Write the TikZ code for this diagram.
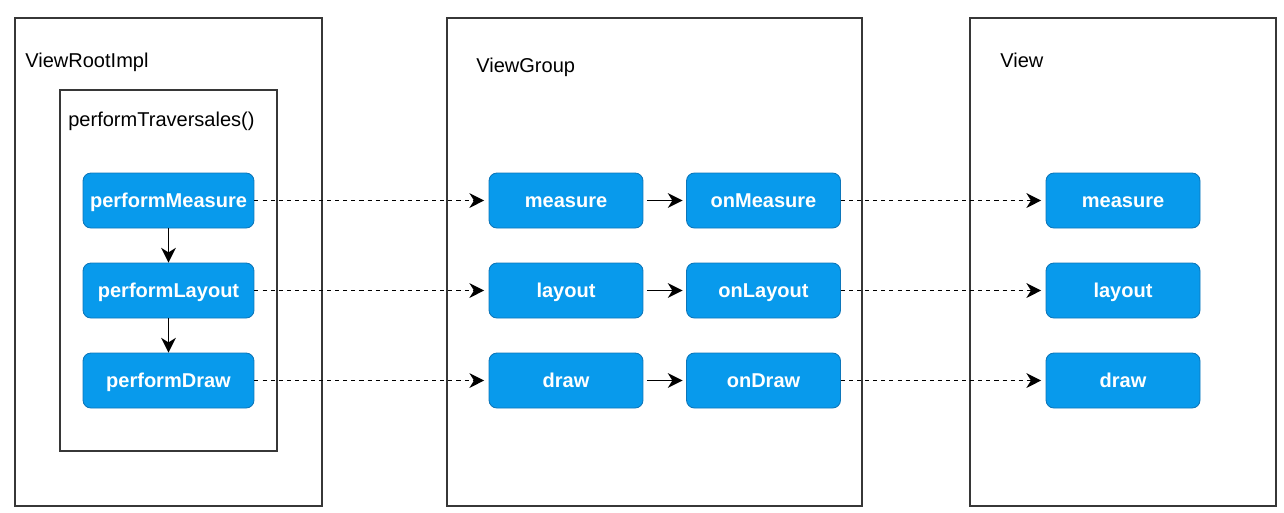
\documentclass[tikz,border=0pt]{standalone}
\usepackage{fontspec}
\setmainfont{Liberation Sans}
\usepackage{xcolor}
\usepackage{pgf,tikz}
\usetikzlibrary{shapes}
\usetikzlibrary{arrows.meta}
\tikzset{
  font={\fontsize{11.4pt}{13}\selectfont}}
\definecolor{callblue}{RGB}{8,154,236}
\definecolor{callline}{RGB}{12,118,186}
\definecolor{frameline}{RGB}{55,55,55}

\begin{document}
\begin{tikzpicture}[x = 0.02cm, y = -0.02cm]

    \tikzset{edge/.style = {->, > = {Stealth[length = 8.4pt, width = 8.4pt, inset = 2.6pt]}, line width = 0.95pt},
             call/.style = {edge, dash pattern = on 2.3pt off 2.3pt, shorten > = 2.5pt},
             frame/.style = {draw = frameline, line width = 0.9pt, rectangle, inner sep = 0pt},
             title/.style = {anchor = base west, inner sep = 0pt},
             method/.style = {rounded corners = 4.5pt, draw = callline, fill = callblue, line width = 0.5pt,
                              text = white, font = {\fontsize{11.4pt}{13}\selectfont\bfseries},
                              text height = 1.75ex, text depth = 0.15ex,
                              minimum height = 1.1cm, minimum width = 3.08cm}}

    \useasboundingbox (0,0) rectangle (1284,512);

    % frames
    \node[frame, minimum width = 6.14cm, minimum height = 9.76cm] (root) at (168.5,262) {};
    \node[frame, minimum width = 4.34cm, minimum height = 7.22cm] (trav) at (168.5,270.5) {};
    \node[frame, minimum width = 8.30cm, minimum height = 9.76cm] (group) at (654.5,262) {};
    \node[frame, minimum width = 6.12cm, minimum height = 9.76cm] (view) at (1123,262) {};

    \node[title] (rootname) at (25,67) {ViewRootImpl};
    \node[title] (travname) at (68,126) {performTraversales()};
    \node[title] (groupname) at (476,72) {ViewGroup};
    \node[title] (viewname) at (1000,67) {View};

    % vertices
    \node[method, minimum width = 3.42cm] (pm) at (168.5,200.5) {performMeasure};
    \node[method, minimum width = 3.42cm] (pl) at (168.5,290.5) {performLayout};
    \node[method, minimum width = 3.42cm] (pd) at (168.5,380.5) {performDraw};

    \node[method] (gm) at (566,200.5) {measure};
    \node[method] (gl) at (566,290.5) {layout};
    \node[method] (gd) at (566,380.5) {draw};

    \node[method] (gom) at (763.5,200.5) {onMeasure};
    \node[method] (gol) at (763.5,290.5) {onLayout};
    \node[method] (god) at (763.5,380.5) {onDraw};

    \node[method] (vm) at (1123,200.5) {measure};
    \node[method] (vl) at (1123,290.5) {layout};
    \node[method] (vd) at (1123,380.5) {draw};

    %edges
    \draw[edge] (pm) to (pl);
    \draw[edge] (pl) to (pd);
    \draw[call] (pm) to (gm);
    \draw[call] (pl) to (gl);
    \draw[call] (pd) to (gd);
    \draw[edge, shorten < = 2pt, shorten > = 2pt] (gm) to (gom);
    \draw[edge, shorten < = 2pt, shorten > = 2pt] (gl) to (gol);
    \draw[edge, shorten < = 2pt, shorten > = 2pt] (gd) to (god);
    \draw[call] (gom) to (vm);
    \draw[call] (gol) to (vl);
    \draw[call] (god) to (vd);

\end{tikzpicture}
\end{document}
